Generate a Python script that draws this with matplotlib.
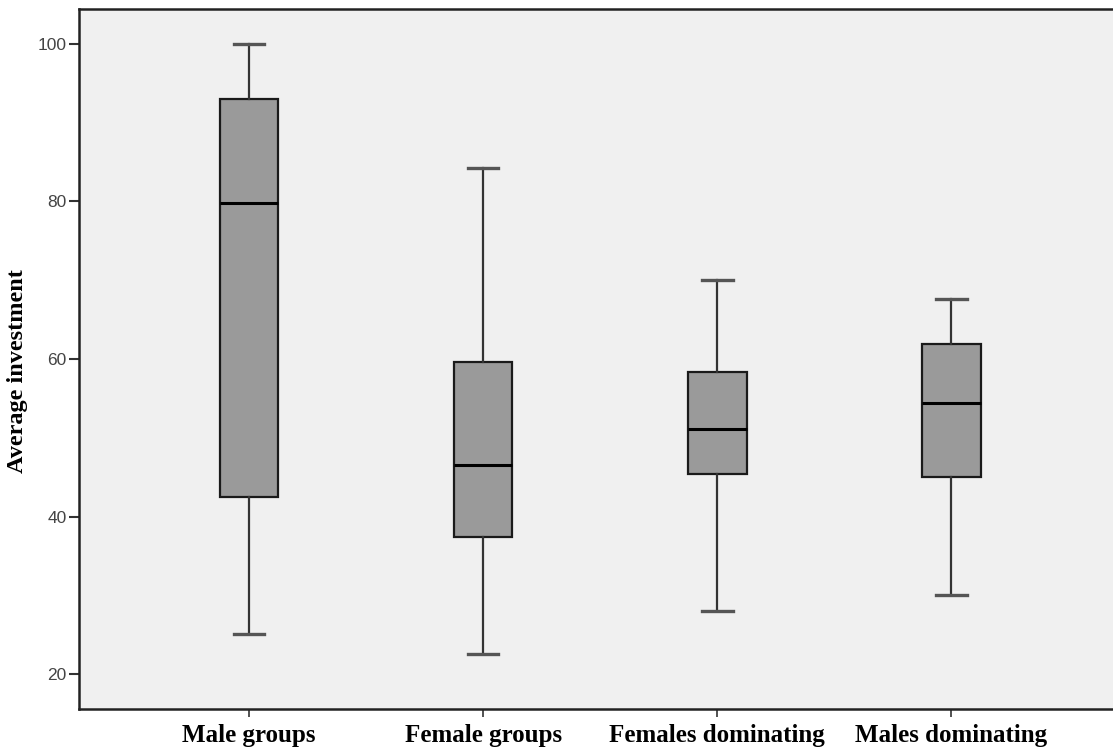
import matplotlib.pyplot as plt

groups = ['Male groups', 'Female groups', 'Females dominating', 'Males dominating']
whisker_low = [25.1, 22.5, 28.0, 30.0]
q1 = [42.5, 37.4, 45.4, 45.0]
medians = [79.8, 46.5, 51.1, 54.4]
q3 = [93.0, 59.6, 58.3, 61.9]
whisker_high = [100.0, 84.2, 70.0, 67.6]
yticks = [20, 40, 60, 80, 100]

stats = []
for i, g in enumerate(groups):
    stats.append({'label': g, 'whislo': whisker_low[i], 'q1': q1[i], 'med': medians[i],
                  'q3': q3[i], 'whishi': whisker_high[i], 'fliers': []})

fig = plt.figure(figsize=(11.13, 7.52), dpi=100)
ax = fig.add_axes([79 / 1113, 1 - 709 / 752, 1 - 79 / 1113, 700 / 752])
ax.set_facecolor('#f0f0f0')

ax.bxp(stats, positions=[1, 2, 3, 4], widths=0.25, patch_artist=True, showfliers=False,
       boxprops=dict(facecolor='#9a9a9a', edgecolor='#1a1a1a', linewidth=1.6),
       medianprops=dict(color='#000000', linewidth=2.2),
       whiskerprops=dict(color='#333333', linewidth=1.6),
       capprops=dict(color='#555555', linewidth=2.4), capwidths=0.13)

ax.set_xlim(0.274, 4.69)
ax.set_ylim(15.56, 104.44)
ax.set_yticks(yticks)
ax.set_yticklabels([str(t) for t in yticks], fontsize=12.5, color='#444444',
                   family='Liberation Sans')
ax.set_xticks([1, 2, 3, 4])
ax.set_xticklabels(groups, fontsize=18, fontweight='bold', family='Liberation Serif')
ax.tick_params(axis='y', length=7, width=1.5, color='#333333', pad=2)
ax.tick_params(axis='x', length=6, width=1.2, color='#333333', pad=5)
ax.set_ylabel('Average investment', fontsize=17.5, fontweight='bold', family='Liberation Serif')
ax.yaxis.set_label_coords(-0.049, 0.483)

for s in ['left', 'bottom', 'top']:
    ax.spines[s].set_linewidth(1.8)
    ax.spines[s].set_color('#222222')
ax.spines['right'].set_visible(False)

fig.savefig('out.png', dpi=100)
